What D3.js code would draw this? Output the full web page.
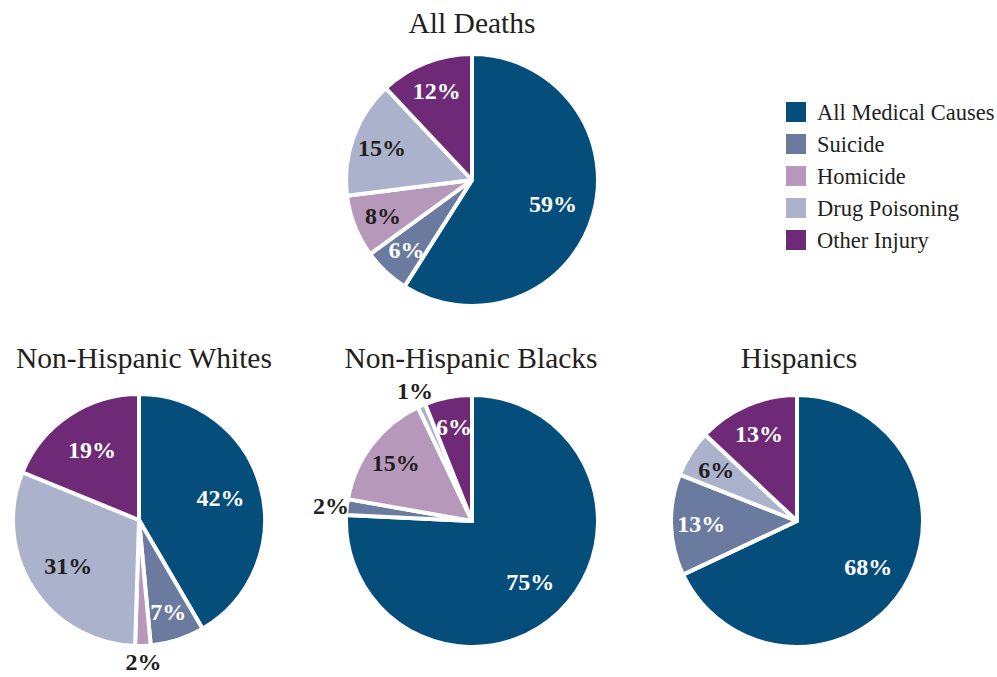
<!DOCTYPE html>
<html>
<head>
<meta charset="utf-8">
<script src="https://cdn.jsdelivr.net/npm/d3@7"></script>
<style>
  body { margin: 0; background: #fff; }
</style>
</head>
<body>
<div id="chart"></div>
<script>
// causes, in drawing order (clockwise from 12 o'clock)
const causes = ["All Medical Causes", "Suicide", "Homicide", "Drug Poisoning", "Other Injury"];
const causeColors = ["#054e7c", "#6a7b9f", "#b698ba", "#aab3cb", "#6e2a76"];
const labelColors = ["#fff", "#fff", "#231f20", "#231f20", "#fff"];

// percentages per group
const groups = ["All Deaths", "Non-Hispanic Whites", "Non-Hispanic Blacks", "Hispanics"];
const allDeaths = [59, 6, 8, 15, 12];
const whites = [42, 7, 2, 31, 19];
const blacks = [75, 2, 15, 1, 6];
const hispanics = [68, 13, 0, 6, 13];

const width = 997, height = 677;
const radius = 126;
const serif = "'Liberation Serif', 'Times New Roman', serif";

const svg = d3.select("#chart")
    .append("svg")
    .attr("width", width)
    .attr("height", height)
    .attr("font-family", serif);

// layout of each pie
const pies = [
    { title: groups[0], values: allDeaths, cx: 472, cy: 180, titleY: 33, titleX: 472 },
    { title: groups[1], values: whites, cx: 139, cy: 520, titleY: 368, titleX: 144 },
    { title: groups[2], values: blacks, cx: 472, cy: 521, titleY: 368, titleX: 471 },
    { title: groups[3], values: hispanics, cx: 797, cy: 521, titleY: 368, titleX: 799 }
];

const pie = d3.pie().sort(null).value(d => d);
const arc = d3.arc().innerRadius(0).outerRadius(radius);

const draw_pie = (p) => {
    // Title
    svg.append("text")
        .attr("x", p.titleX)
        .attr("y", p.titleY)
        .attr("text-anchor", "middle")
        .attr("font-family", serif)
        .attr("font-size", 29.5)
        .attr("fill", "#231f20")
        .text(p.title);

    const g = svg.append("g")
        .attr("transform", "translate(" + p.cx + "," + p.cy + ")");

    const arcs = pie(p.values).map((d, i) => ({ ...d, idx: i })).filter(d => d.value > 0);

    const mid = d => (d.startAngle + d.endAngle) / 2;
    // big slices: label nearer the centre; tiny slices: label outside
    const labR = d => d.value <= 2 ? radius + 16 : (d.value >= 18 ? radius * 0.67 : radius * 0.76);

    // slices with thick white borders
    g.selectAll("path.slice")
        .data(arcs)
        .enter()
        .append("path")
        .attr("class", "slice")
        .attr("d", arc)
        .attr("fill", d => causeColors[d.idx])
        .attr("stroke", "#fff")
        .attr("stroke-width", 4)
        .attr("stroke-linejoin", "round");

    g.selectAll("text.lab")
        .data(arcs)
        .enter()
        .append("text")
        .attr("class", "lab")
        .attr("text-anchor", "middle")
        .attr("dy", "0.35em")
        .attr("font-family", serif)
        .attr("font-size", 24)
        .attr("font-weight", "bold")
        .attr("fill", d => d.value <= 2 ? "#231f20" : labelColors[d.idx])
        .attr("x", d => Math.sin(mid(d)) * labR(d))
        .attr("y", d => -Math.cos(mid(d)) * labR(d))
        .text(d => d.value + "%");
};

pies.forEach(draw_pie);

// Legend
const legend = svg.append("g")
    .attr("transform", "translate(786,102)");

const rows = legend.selectAll("g.row")
    .data(causes)
    .enter()
    .append("g")
    .attr("class", "row")
    .attr("transform", (d, i) => "translate(0," + (i * 32) + ")");

rows.append("rect")
    .attr("width", 20)
    .attr("height", 20)
    .attr("fill", (d, i) => causeColors[i]);

rows.append("text")
    .attr("x", 31)
    .attr("y", 10)
    .attr("dy", "0.35em")
    .attr("font-family", serif)
    .attr("font-size", 22.5)
    .attr("fill", "#231f20")
    .text(d => d);
</script>
</body>
</html>
